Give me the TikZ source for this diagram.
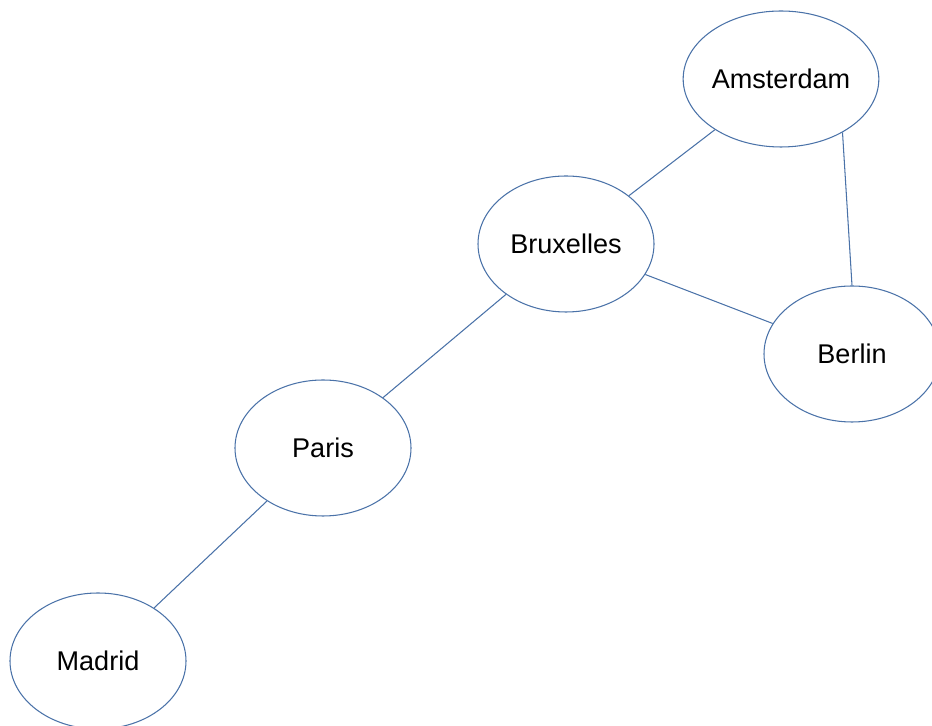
\documentclass[tikz,border=0pt]{standalone}
\usepackage{fontspec}
\setmainfont{Liberation Sans}
\usetikzlibrary{shapes.geometric}
\definecolor{cityblue}{HTML}{4A72A8}

\begin{document}
\begin{tikzpicture}[city/.style={ellipse,draw=cityblue,line width=0.6pt,minimum width=3.52cm,minimum height=2.72cm,inner sep=0pt,font=\fontsize{15.4}{18}\selectfont},
		road/.style={cityblue,line width=0.6pt}]
		\useasboundingbox (0,0) rectangle (18.64,14.52);
		\node[city] (ams) at (15.62,12.94) {Amsterdam};
		\node[city] (bru) at (11.32,9.64) {Bruxelles};
		\node[city] (ber) at (17.04,7.44) {Berlin};
		\node[city] (par) at (6.46,5.56) {Paris};
		\node[city] (mad) at (1.96,1.30) {Madrid};
		\draw[road] (ams) -- (bru);
		\draw[road] (ams.-41) -- (ber.north);
		\draw[road] (bru) -- (ber);
		\draw[road] (bru) -- (par);
		\draw[road] (par) -- (mad);
	\end{tikzpicture}
\end{document}
